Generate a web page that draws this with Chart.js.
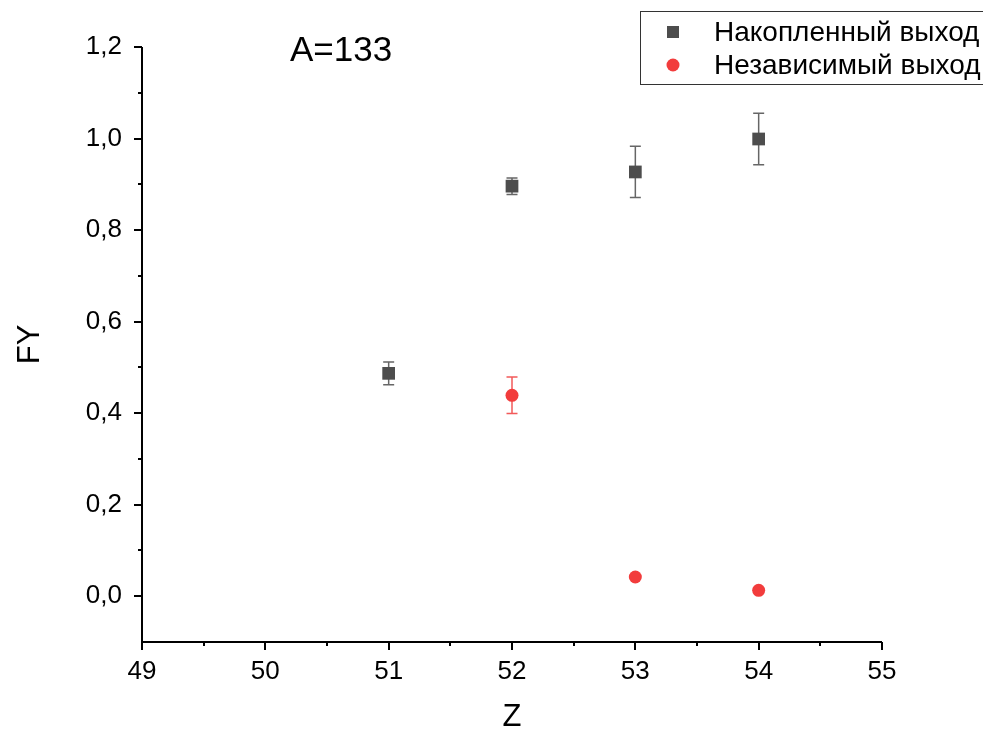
<!DOCTYPE html>
<html>
<head>
    <meta charset="utf-8">
    <title>FY vs Z</title>
    <script src="https://cdn.jsdelivr.net/npm/chart.js@4.4.1/dist/chart.umd.min.js"></script>
    <style>
        body { margin: 0; background: #fff; }
        #wrap { width: 983px; height: 733px; }
    </style>
</head>
<body>
<div id="wrap"><canvas id="fy" width="983" height="733"></canvas></div>
<script>
// data
var cumZ = [51, 52, 53, 54];
var cumY = [0.487, 0.896, 0.927, 0.999];
var cumErr = [0.025, 0.018, 0.056, 0.056];

var indZ = [52, 53, 54];
var indY = [0.439, 0.042, 0.013];
var indErr = [0.04, 0, 0];

var seriesNames = ['Накопленный выход', 'Независимый выход'];
var xTicks = [49, 50, 51, 52, 53, 54, 55];
var yTicks = [0, 0.2, 0.4, 0.6, 0.8, 1.0, 1.2];

var FONT = "'Liberation Sans', Arial, sans-serif";
Chart.defaults.font.family = FONT;

function pts(xs, ys) {
    return xs.map(function(x, i) { return {x: x, y: ys[i]}; });
}

// axis lines, ticks (major + minor), error bars, titles, legend box
var decor = {
    id: 'decor',
    beforeDatasetsDraw: function(chart) {
        var ctx = chart.ctx, xs = chart.scales.x, ys = chart.scales.y;
        chart.data.datasets.forEach(function(ds) {
            ctx.save();
            ctx.strokeStyle = ds.errColor;
            ctx.lineWidth = 1.5;
            ds.data.forEach(function(p, i) {
                var e = ds.errs[i];
                if (!e) return;
                var px = xs.getPixelForValue(p.x);
                var t = ys.getPixelForValue(p.y + e);
                var b = ys.getPixelForValue(p.y - e);
                ctx.beginPath();
                ctx.moveTo(px, t); ctx.lineTo(px, b);
                ctx.moveTo(px - 5.5, t); ctx.lineTo(px + 5.5, t);
                ctx.moveTo(px - 5.5, b); ctx.lineTo(px + 5.5, b);
                ctx.stroke();
            });
            ctx.restore();
        });
    },
    afterDraw: function(chart) {
        var ctx = chart.ctx, a = chart.chartArea;
        var xs = chart.scales.x, ys = chart.scales.y;
        ctx.save();
        ctx.strokeStyle = '#000';
        ctx.lineWidth = 2;
        ctx.beginPath();
        ctx.moveTo(a.left, a.top); ctx.lineTo(a.left, a.bottom);
        ctx.lineTo(a.right, a.bottom);
        // x ticks
        for (var v = 49; v <= 55; v += 0.5) {
            var px = Math.round(xs.getPixelForValue(v));
            ctx.moveTo(px, a.bottom); ctx.lineTo(px, a.bottom + (v % 1 === 0 ? 8 : 4));
        }
        // y ticks
        for (var k = 0; k <= 12; k++) {
            var py = Math.round(ys.getPixelForValue(k / 10));
            ctx.moveTo(a.left, py); ctx.lineTo(a.left - (k % 2 === 0 ? 8 : 4), py);
        }
        ctx.stroke();

        ctx.fillStyle = '#000';
        ctx.textAlign = 'center';
        ctx.textBaseline = 'middle';
        ctx.font = '31px ' + FONT;
        ctx.fillText('Z', (a.left + a.right) / 2, 717);
        ctx.save();
        ctx.translate(30, (a.top + a.bottom) / 2);
        ctx.rotate(-Math.PI / 2);
        ctx.fillText('FY', 0, 0);
        ctx.restore();

        ctx.textAlign = 'left';
        ctx.font = '35px ' + FONT;
        ctx.fillText('A=133', 290, 51);

        // legend
        ctx.lineWidth = 1;
        ctx.strokeStyle = '#333';
        ctx.strokeRect(640.5, 11.5, 360, 73);
        ctx.font = '28px ' + FONT;
        ctx.fillStyle = '#4d4d4d';
        ctx.fillRect(667, 26, 12, 12);
        ctx.fillStyle = '#f23c3c';
        ctx.beginPath();
        ctx.arc(673, 65, 6.5, 0, Math.PI * 2);
        ctx.fill();
        ctx.fillStyle = '#000';
        ctx.fillText(seriesNames[0], 714, 33);
        ctx.fillText(seriesNames[1], 714, 66);
        ctx.restore();
    }
};

new Chart(document.getElementById('fy'), {
    type: 'scatter',
    data: {
        datasets: [{
            label: seriesNames[0],
            data: pts(cumZ, cumY),
            errs: cumErr,
            errColor: '#666666',
            pointStyle: 'rect',
            pointRadius: 9,
            pointBorderWidth: 0,
            backgroundColor: '#4d4d4d',
            borderColor: '#4d4d4d'
        }, {
            label: seriesNames[1],
            data: pts(indZ, indY),
            errs: indErr,
            errColor: 'rgba(240,60,60,0.85)',
            pointStyle: 'circle',
            pointRadius: 6.5,
            pointBorderWidth: 0,
            backgroundColor: '#f23c3c',
            borderColor: '#f23c3c'
        }]
    },
    options: {
        responsive: false,
        animation: false,
        devicePixelRatio: 1,
        layout: { padding: { top: 47, right: 101, left: 0, bottom: 0 } },
        plugins: { legend: { display: false }, tooltip: { enabled: false } },
        scales: {
            x: {
                type: 'linear',
                min: 49, max: 55,
                afterBuildTicks: function(s) { s.ticks = xTicks.map(function(v) { return {value: v}; }); },
                ticks: { font: { size: 26 }, color: '#000', padding: 6, maxRotation: 0 },
                grid: { display: false },
                border: { display: false },
                afterFit: function(s) { s.height = 91; }
            },
            y: {
                min: -0.1, max: 1.2,
                afterBuildTicks: function(s) { s.ticks = yTicks.map(function(v) { return {value: v}; }); },
                ticks: {
                    font: { size: 26 }, color: '#000', padding: 12,
                    callback: function(v) { return v.toFixed(1).replace('.', ','); }
                },
                grid: { display: false },
                border: { display: false },
                afterFit: function(s) { s.width = 142; }
            }
        }
    },
    plugins: [decor]
});
</script>
</body>
</html>
